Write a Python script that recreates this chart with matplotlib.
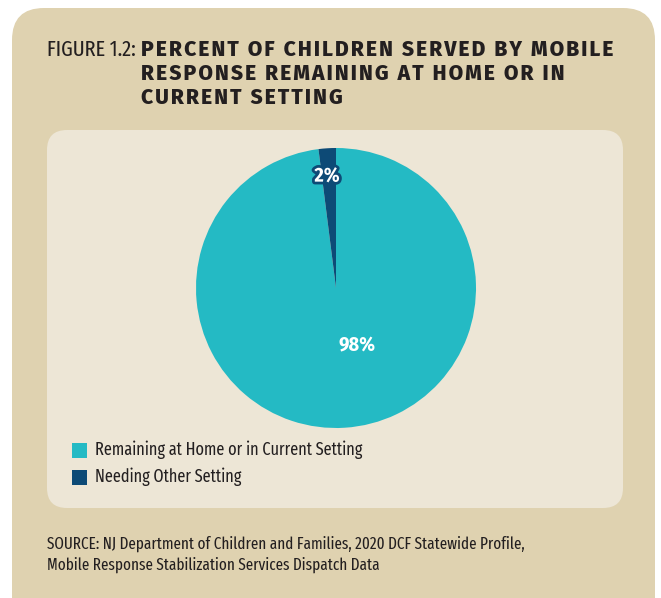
import matplotlib
matplotlib.use("Agg")
import matplotlib.pyplot as plt
import matplotlib.patheffects as pe
from matplotlib.patches import FancyBboxPatch, Rectangle

# Data
categories = ["Remaining at Home or in Current Setting", "Needing Other Setting"]
values = [98, 2]
value_labels = ["98%", "2%"]
colors = ["#24BAC4", "#0D4A76"]

title_prefix = "FIGURE 1.2:"
title_lines = ["PERCENT OF CHILDREN SERVED BY MOBILE",
               "RESPONSE REMAINING AT HOME OR IN",
               "CURRENT SETTING"]
source_lines = ["SOURCE: NJ Department of Children and Families, 2020 DCF Statewide Profile,",
                "Mobile Response Stabilization Services Dispatch Data"]

cond = ["Fira Sans Extra Condensed", "DejaVu Sans"]
heavy = ["Fira Sans", "DejaVu Sans"]
ink = "#231F20"
W, H = 661, 598

fig = plt.figure(figsize=(W / 100, H / 100), dpi=100)
fig.patch.set_facecolor("white")
renderer = fig.canvas.get_renderer()


def fit(t, width):
    # scale the font so the text spans the given pixel width
    w = t.get_window_extent(renderer=renderer).width
    t.set_fontsize(t.get_fontsize() * width / w)
    return t


# background axes in pixel coordinates
bg = fig.add_axes([0, 0, 1, 1])
bg.set_xlim(0, W)
bg.set_ylim(H, 0)
bg.axis("off")

bg.add_patch(FancyBboxPatch((12, 8), 643, 640, boxstyle="round,pad=0,rounding_size=32",
                            fc="#DFD2B0", ec="none"))
bg.add_patch(FancyBboxPatch((47, 130), 576, 378, boxstyle="round,pad=0,rounding_size=20",
                            fc="#EDE6D6", ec="none"))

# title
fit(bg.text(47, 55.5, title_prefix, fontsize=14, family=cond, color=ink, va="baseline"), 89)
t0 = bg.text(141, 55.5, "\u200a".join(title_lines[0]), fontsize=13, fontweight="heavy",
             family=heavy, color=ink, va="baseline")
fit(t0, 471)
for i, line in enumerate(title_lines[1:], start=1):
    bg.text(141, 55.5 + i * 24.5, "\u200a".join(line), fontsize=t0.get_fontsize(),
            fontweight="heavy", family=heavy, color=ink, va="baseline")

# legend
for i, (cat, col) in enumerate(zip(categories, colors)):
    y = 450 + i * 27
    bg.add_patch(Rectangle((72, y - 7.5), 15, 15, fc=col, ec="none"))
    t = bg.text(95, y, cat, fontsize=13, family=cond, color=ink, va="center")
    if i == 0:
        fit(t, 271)
        leg_fs = t.get_fontsize()
    else:
        t.set_fontsize(leg_fs)

# source
s0 = fit(bg.text(47, 548.5, source_lines[0], fontsize=12, family=cond, color=ink,
                 va="baseline"), 477)
bg.text(47, 570, source_lines[1], fontsize=s0.get_fontsize(), family=cond, color=ink,
        va="baseline")

# pie
cx, cy, r = 336, 288, 140
ax = fig.add_axes([(cx - r) / W, (H - cy - r) / H, 2 * r / W, 2 * r / H])
ax.pie(values, colors=colors, startangle=90, counterclock=False, radius=1,
       wedgeprops=dict(linewidth=0))
ax.set_xlim(-1, 1)
ax.set_ylim(-1, 1)
ax.axis("off")

lab_font = ["Fira Sans Condensed", "DejaVu Sans"]
ax.text(0.15, -0.41, value_labels[0], color="white", fontsize=14.5, fontweight="bold",
        family=lab_font, ha="center", va="center")
ax.text(-0.064, 0.8, value_labels[1], color="white", fontsize=14.5, fontweight="bold",
        family=lab_font, ha="center", va="center",
        path_effects=[pe.withStroke(linewidth=4, foreground=colors[1])])

fig.savefig("out.png", dpi=100, facecolor=fig.get_facecolor())
